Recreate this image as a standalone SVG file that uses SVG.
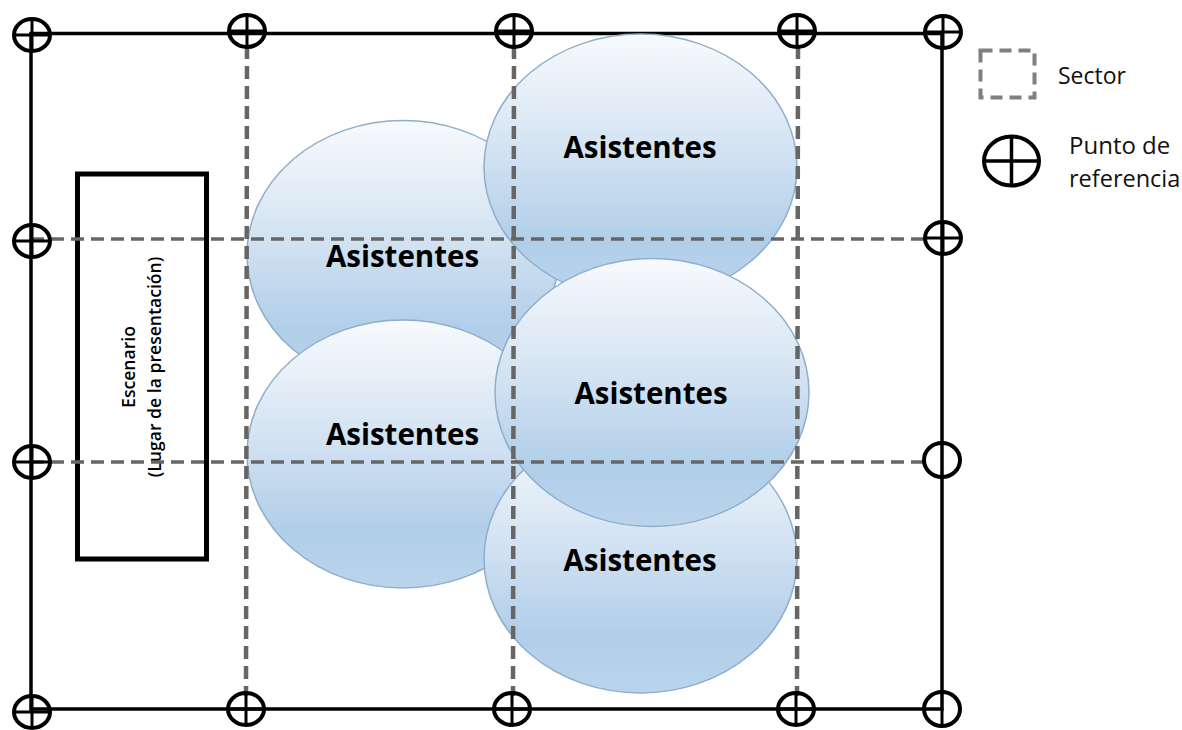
<svg xmlns="http://www.w3.org/2000/svg" width="1182" height="730" viewBox="0 0 1182 730">
<defs>
<linearGradient id="g" x1="0" y1="0" x2="0" y2="1"><stop offset="0" stop-color="#f8fafd"/><stop offset="0.45" stop-color="#d2e2f2"/><stop offset="0.78" stop-color="#b1cee9"/><stop offset="1" stop-color="#bad4ec"/></linearGradient>
<g id="pt"><ellipse rx="18" ry="16" fill="none" stroke="#000" stroke-width="4"/><path d="M-18 0H18M0 -16V16" stroke="#000" stroke-width="3" fill="none"/></g>
</defs>
<style>
.e{fill:url(#g);stroke:#8eaecb;stroke-width:1.5}
.t{font-family:"Open Sans","Noto Sans",sans-serif;font-weight:700;font-size:29.500px;fill:#000;text-anchor:middle}
.d{stroke:#666;stroke-width:3.500;stroke-dasharray:13 7;fill:none}
.v{stroke:#666;stroke-width:4.500;stroke-dasharray:13 7;fill:none}
.s{stroke:#000;stroke-width:3.500;fill:none}
.l{font-family:"Open Sans","Noto Sans",sans-serif;font-size:23px;fill:#111}
</style>
<rect width="1182" height="730" fill="#fff"/>
<g id="border"><path class="s" d="M31 33.500H942V709H31Z"/></g>
<g id="ellipses">
<g id="n-a1"><ellipse class="e" cx="403" cy="254.500" rx="156" ry="134"/><text class="t" x="402.500" y="267">Asistentes</text></g>
<g id="n-a2"><ellipse class="e" cx="640.500" cy="167" rx="156.500" ry="133"/><text class="t" x="640" y="158">Asistentes</text></g>
<g id="n-a3"><ellipse class="e" cx="403" cy="454" rx="156" ry="134"/><text class="t" x="402.500" y="445">Asistentes</text></g>
<g id="n-a5"><ellipse class="e" cx="640.500" cy="559" rx="156.500" ry="134"/><text class="t" x="640" y="571">Asistentes</text></g>
<g id="n-a4"><ellipse class="e" cx="652" cy="392.500" rx="157" ry="134"/><text class="t" x="651" y="404">Asistentes</text></g>
</g>
<g id="n-stage"><rect x="77.500" y="174" width="129" height="385" fill="none" stroke="#000" stroke-width="5"/><text transform="translate(0,367) rotate(-90)" text-anchor="middle" font-family="Open Sans, Noto Sans, sans-serif" font-weight="600" font-size="17.600" fill="#000"><tspan x="0" y="135">Escenario</tspan><tspan x="0" y="161">(Lugar de la presentación)</tspan></text></g>
<g id="connectors">
<path class="d" d="M31 239H926M31 462H926"/>
<path class="v" d="M247 46L246 696M514 46L513 696M798 46L797 696"/>
</g>
<g id="points">
<use href="#pt" x="32" y="35"/><use href="#pt" x="247" y="31"/><use href="#pt" x="514" y="31"/><use href="#pt" x="797" y="31"/><use href="#pt" x="943" y="32"/>
<use href="#pt" x="32" y="241"/><use href="#pt" x="943" y="238"/>
<use href="#pt" x="32" y="462"/>
<g id="pt-open"><ellipse cx="942" cy="460" rx="18" ry="17" fill="none" stroke="#000" stroke-width="4"/></g>
<use href="#pt" x="32" y="712"/><use href="#pt" x="246" y="709"/><use href="#pt" x="512" y="709"/><use href="#pt" x="796" y="709"/>
<g id="pt-corner"><ellipse cx="942" cy="709" rx="18" ry="17" fill="none" stroke="#000" stroke-width="4"/><path d="M942 709V725" stroke="#000" stroke-width="3"/></g>
</g>
<g id="legend">
<rect x="980.500" y="50.500" width="54" height="47" fill="none" stroke="#7f7f7f" stroke-width="4" stroke-dasharray="12 7"/>
<text class="l" x="1058" y="84">Sector</text>
<ellipse cx="1011.500" cy="161" rx="27.500" ry="24.500" fill="none" stroke="#000" stroke-width="4"/>
<path d="M984 161H1039M1011.500 137V185" stroke="#000" stroke-width="3.500" fill="none"/>
<text class="l" x="1069" y="154" style="font-size:24px">Punto de</text>
<text class="l" x="1069" y="187" style="font-size:23.500px">referencia</text>
</g>
</svg>
